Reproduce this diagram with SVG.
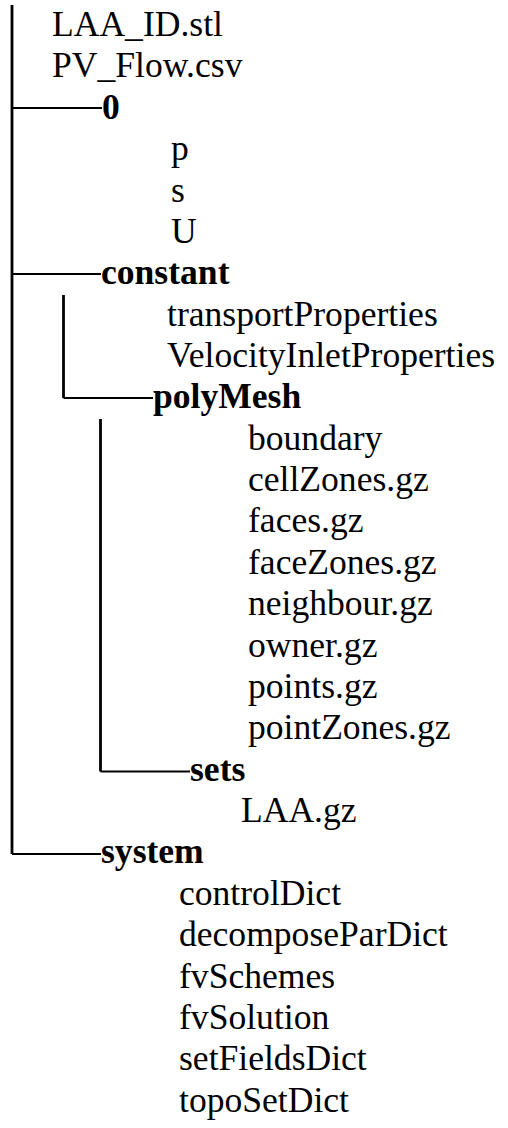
<svg xmlns="http://www.w3.org/2000/svg" width="508" height="1128" viewBox="0 0 508 1128">
<style>
text{font-family:"Liberation Serif","Times New Roman",serif;font-size:35.6px;fill:#000}
.b{font-weight:bold}
.v{stroke:#000;stroke-width:2.8;fill:none}
.h{stroke:#000;stroke-width:2.2;fill:none}
</style>
<rect width="508" height="1128" fill="#fff"/>
<g id="connectors">
<path class="v" d="M12,5V854"/>
<path class="h" d="M12,108H102M12,274H101M12,854H101"/>
<path class="v" d="M63.5,295V398"/>
<path class="h" d="M63.5,398H153"/>
<path class="v" d="M100.5,419V771.5"/>
<path class="h" d="M100.5,771.5H190"/>
</g>
<g id="root-files">
<text x="52" y="36">LAA_ID.stl</text>
<text x="52" y="77.4">PV_Flow.csv</text>
</g>
<g id="dir-0">
<text class="b" x="102" y="118.7">0</text>
<text x="171" y="160.1">p</text>
<text x="171" y="201.5">s</text>
<text x="171" y="242.9">U</text>
</g>
<g id="dir-constant">
<text class="b" x="101" y="284.2">constant</text>
<text x="167" y="325.6">transportProperties</text>
<text x="167" y="367">VelocityInletProperties</text>
</g>
<g id="dir-polyMesh">
<text class="b" x="153" y="408.3">polyMesh</text>
<text x="248" y="449.7">boundary</text>
<text x="248" y="491.1">cellZones.gz</text>
<text x="248" y="532.4">faces.gz</text>
<text x="248" y="573.8">faceZones.gz</text>
<text x="248" y="615.2">neighbour.gz</text>
<text x="248" y="656.6">owner.gz</text>
<text x="248" y="697.9">points.gz</text>
<text x="248" y="739.3">pointZones.gz</text>
</g>
<g id="dir-sets">
<text class="b" x="190" y="780.7">sets</text>
<text x="241" y="822">LAA.gz</text>
</g>
<g id="dir-system">
<text class="b" x="101" y="863.4">system</text>
<text x="179" y="904.8">controlDict</text>
<text x="179" y="946.1">decomposeParDict</text>
<text x="179" y="987.5">fvSchemes</text>
<text x="179" y="1028.9">fvSolution</text>
<text x="179" y="1070.3">setFieldsDict</text>
<text x="179" y="1111.6">topoSetDict</text>
</g>
</svg>
